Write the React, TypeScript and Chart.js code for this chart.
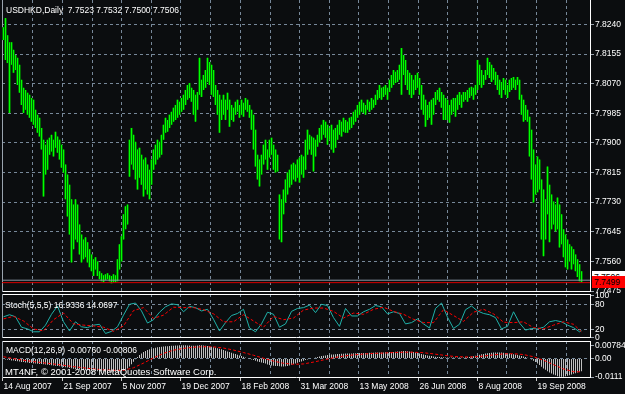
import React, { useEffect, useRef } from 'react';
import { Chart, registerables } from 'chart.js';
Chart.register(...registerables);

const FONT = "'Liberation Sans', Arial, sans-serif";
const BG = '#0b0d0f';
const GRID = '#778899';
const BAR = '#00ff00';
const BAR_SHADE = '#006800';

// ---- time axis (bar index) ----
const xMin = -0.75;
const xMax = 293.25;
// bar positions of the date grid lines, every other one is labelled
const gridBars = [-0.5, 14.5, 29.5, 44.5, 59, 74, 88.5, 103.5, 118.5, 133.5, 148, 163, 177.5, 192.5, 207.5, 222, 237, 251.5, 266.5, 281.5];
const dateLabels = ['14 Aug 2007', '21 Sep 2007', '5 Nov 2007', '19 Dec 2007', '18 Feb 2008', '31 Mar 2008', '13 May 2008', '26 Jun 2008', '8 Aug 2008', '19 Sep 2008'];

// ---- price panel ----
const priceMin = 7.7475;
const priceMax = 7.831;
const priceTicks = [7.7475, 7.756, 7.7645, 7.773, 7.7815, 7.79, 7.7985, 7.807, 7.8155, 7.824];
const bidLevel = 7.7506;
const markLevel = 7.7499;

const barHigh = [
  7.8232, 7.8258, 7.8209, 7.8189, 7.8189, 7.8167, 7.8152, 7.8144, 7.8124, 7.8081,
  7.8058, 7.8052, 7.8044, 7.8038, 7.8029, 7.8024, 7.7995, 7.7981, 7.7972, 7.7943,
  7.7909, 7.7895, 7.7909, 7.7915, 7.7923, 7.7909, 7.7932, 7.7918, 7.7909, 7.7895,
  7.7881, 7.7838, 7.7809, 7.778, 7.7738, 7.7723, 7.7738, 7.7723, 7.7666, 7.7637,
  7.7623, 7.7629, 7.7615, 7.7595, 7.758, 7.7566, 7.7572, 7.756, 7.7532,
  7.7526, 7.752, 7.7523, 7.7526, 7.752, 7.7518, 7.7523, 7.752, 7.7566, 7.7609,
  7.7632, 7.7695, 7.7718, 7.7723, 7.7909, 7.7943, 7.7923, 7.7903, 7.7881, 7.7886,
  7.7866, 7.7852, 7.7858, 7.7838, 7.7823, 7.7852, 7.7881, 7.7895, 7.7909, 7.7903,
  7.7923, 7.7952, 7.7972, 7.7966, 7.7981, 7.7989, 7.8001, 7.8009, 7.8024, 7.8018,
  7.8029, 7.8038, 7.8052, 7.8066, 7.8072, 7.8058, 7.8052, 7.8038, 7.8046, 7.8144,
  7.8081, 7.8095, 7.8109, 7.8144, 7.8132, 7.8124, 7.8109, 7.8066, 7.8052, 7.8038,
  7.8024, 7.8038, 7.8024, 7.8044, 7.8024, 7.8009, 7.8001, 7.8018, 7.8024, 7.8009,
  7.8024, 7.8015, 7.8029, 7.8024, 7.8009, 7.7995, 7.7981, 7.7938, 7.7866, 7.7852,
  7.7866, 7.7895, 7.7909, 7.7881, 7.7909, 7.7915, 7.7895, 7.7881, 7.7866,
  7.7752, 7.7738, 7.7766, 7.7795, 7.7815, 7.7823, 7.7838, 7.7843, 7.7838, 7.7852,
  7.7858, 7.7866, 7.7861, 7.7909, 7.7938, 7.7923, 7.7918, 7.7915, 7.7909, 7.7923,
  7.7943, 7.7952, 7.7966, 7.7961, 7.7952, 7.7943, 7.7952, 7.7938, 7.7943, 7.7952,
  7.7966, 7.7961, 7.7972, 7.7966, 7.7961, 7.7972, 7.7975, 7.7989, 7.7995, 7.8009,
  7.8018, 7.8024, 7.8015, 7.8009, 7.8024, 7.8018, 7.8029, 7.8024, 7.8038, 7.8052,
  7.8066, 7.8058, 7.8061, 7.8066, 7.8058, 7.8081, 7.8095, 7.8109, 7.8104, 7.8109,
  7.8124, 7.8172, 7.8152, 7.8138, 7.8109, 7.8101, 7.8095, 7.8081, 7.8095, 7.8101,
  7.8086, 7.8066, 7.8038, 7.8024, 7.8009, 7.8018, 7.8024, 7.8029, 7.8046,
  7.8052, 7.8058, 7.8046, 7.8038, 7.8029, 7.8024, 7.8009, 7.8024, 7.8029, 7.8029,
  7.8038, 7.8046, 7.8038, 7.8046, 7.8046, 7.8052, 7.8058, 7.8061, 7.8058, 7.8066,
  7.8138, 7.8124, 7.8109, 7.8095, 7.8109, 7.8144, 7.8132, 7.8124, 7.8115, 7.8104,
  7.8095, 7.8081, 7.8075, 7.8086, 7.8081, 7.8066, 7.8081, 7.8086, 7.8089, 7.8081,
  7.8089, 7.8081, 7.8038, 7.8024, 7.8009, 7.7995, 7.7975, 7.7938, 7.7881, 7.7838,
  7.7861, 7.7852, 7.7795, 7.7766, 7.7738, 7.7832, 7.778, 7.7752, 7.7732, 7.7723,
  7.7743, 7.7723, 7.7695, 7.7652, 7.7637, 7.7623, 7.7609, 7.7603, 7.7595,
  7.758, 7.7566, 7.7552, 7.7532,
];

const barLow = [
  7.8195, 7.8138, 7.8129, 7.7986, 7.8124, 7.8101, 7.8109, 7.8066, 7.8044, 7.8009,
  7.7986, 7.7995, 7.7981, 7.7972, 7.7961, 7.7952, 7.7943, 7.7929, 7.7918, 7.7881,
  7.7746, 7.7809, 7.7823, 7.7866, 7.7875, 7.7861, 7.7886, 7.7872, 7.7852, 7.7829,
  7.7815, 7.7738, 7.7689, 7.7637, 7.7557, 7.7595, 7.7623, 7.7615, 7.758, 7.7557,
  7.7566, 7.7572, 7.7557, 7.7543, 7.7532, 7.7518, 7.7537, 7.7518, 7.7509,
  7.7503, 7.75, 7.7506, 7.7509, 7.7503, 7.7497, 7.75, 7.75, 7.7503, 7.7537,
  7.756, 7.7623, 7.7652, 7.7666, 7.7803, 7.7838, 7.7823, 7.7795, 7.7766, 7.78,
  7.778, 7.7746, 7.7766, 7.7752, 7.7738, 7.778, 7.7823, 7.7838, 7.7852, 7.7858,
  7.7866, 7.7909, 7.7929, 7.7932, 7.7943, 7.7952, 7.7961, 7.7966, 7.7972, 7.7981,
  7.7989, 7.7995, 7.8009, 7.8024, 7.8029, 7.8018, 7.7981, 7.7961, 7.7995, 7.8038,
  7.8032, 7.8052, 7.8058, 7.8075, 7.8066, 7.8038, 7.8032, 7.8009, 7.7981, 7.7929,
  7.7966, 7.7981, 7.7966, 7.7995, 7.7946, 7.7966, 7.7961, 7.7981, 7.7989, 7.7972,
  7.7981, 7.7975, 7.7995, 7.7989, 7.7972, 7.7938, 7.7881, 7.7832, 7.7795, 7.7775,
  7.7809, 7.7838, 7.7852, 7.7823, 7.7858, 7.7866, 7.7823, 7.7815, 7.7818,
  7.7623, 7.7615, 7.7695, 7.7729, 7.7752, 7.7772, 7.778, 7.7795, 7.7789, 7.78,
  7.7786, 7.7809, 7.78, 7.7823, 7.7866, 7.7881, 7.7866, 7.7818, 7.7861, 7.7889,
  7.7901, 7.7909, 7.7923, 7.7915, 7.7895, 7.7909, 7.7881, 7.7872, 7.7886, 7.7909,
  7.7923, 7.7918, 7.7932, 7.7929, 7.7929, 7.7938, 7.7943, 7.7952, 7.7961, 7.7972,
  7.7981, 7.7989, 7.7986, 7.7981, 7.7995, 7.7989, 7.7995, 7.8001, 7.8009, 7.8024,
  7.8029, 7.8024, 7.8032, 7.8038, 7.8024, 7.8046, 7.8058, 7.8066, 7.8072, 7.8075,
  7.8081, 7.8038, 7.8095, 7.8066, 7.8052, 7.8038, 7.8029, 7.8038, 7.8052, 7.8058,
  7.8038, 7.7995, 7.7981, 7.7946, 7.7966, 7.7972, 7.7952, 7.7981, 7.8009,
  7.8024, 7.8018, 7.8001, 7.7966, 7.7966, 7.7966, 7.7958, 7.7981, 7.7989, 7.7975,
  7.7995, 7.8009, 7.8001, 7.8018, 7.8024, 7.8018, 7.8029, 7.8035, 7.8024, 7.8038,
  7.8052, 7.8066, 7.8058, 7.8066, 7.8081, 7.8095, 7.8086, 7.8075, 7.8081, 7.8066,
  7.8052, 7.8038, 7.8029, 7.8052, 7.8038, 7.8029, 7.8046, 7.8052, 7.8058, 7.8052,
  7.8066, 7.8024, 7.7981, 7.7961, 7.7966, 7.7961, 7.7861, 7.7795, 7.7729, 7.7752,
  7.7758, 7.7766, 7.7623, 7.7575, 7.7623, 7.7695, 7.7615, 7.7652, 7.7666, 7.7646,
  7.7652, 7.76, 7.7609, 7.7572, 7.7543, 7.7537, 7.756, 7.7537, 7.7552,
  7.7532, 7.7515, 7.7503, 7.75,
];

// ---- stochastic panel ----
const stochMin = 1.5;
const stochMax = 104.7;
const stochTicks = [0, 20, 80, 100];
const stochLevels = [20, 80];
const stochMainStep = 3;
const stochMain = [
  50, 55, 50, 25, 21, 14, 14, 30, 56, 76,
  38, 16, 38, 26, 24, 30, 32, 10, 15, 26,
  54, 80, 83, 64, 35, 43, 61, 74, 81, 79,
  62, 75, 72, 64, 68, 44, 16, 36, 53, 58,
  68, 23, 14, 33, 61, 56, 25, 33, 63, 70,
  72, 78, 60, 80, 77, 48, 27, 70, 52, 52,
  62, 68, 77, 74, 57, 62, 58, 33, 36, 45,
  33, 23, 70, 83, 49, 22, 32, 67, 76, 64,
  58, 55, 48, 21, 27, 62, 35, 18, 22, 21,
  25, 38, 41, 38, 30, 24, 14,
];
const stochSignalStep = 5;
const stochSignal = [
  45, 51, 40, 21, 16, 43, 59, 33, 30, 28,
  25, 15, 28, 65, 72, 46, 54, 73, 72, 72,
  67, 57, 38, 38, 55, 40, 25, 51, 43, 47,
  66, 71, 71, 63, 47, 59, 56, 68, 73, 63,
  56, 44, 36, 36, 67, 53, 39, 61, 68, 57,
  37, 36, 38, 24, 21, 30, 38, 32,
];
const stochLastMain = 16.9336;
const stochLastSignal = 14.0697;

// ---- MACD panel ----
const macdMin = -0.0111;
const macdMax = 0.0104;
const macdTicks = [0.00784, 0, -0.0111];
const macdHist = [
  -0.0004, -0.0006, -0.0008, -0.001, -0.0012, -0.0013, -0.0015, -0.0017, -0.0019, -0.0021,
  -0.0022, -0.0024, -0.0025, -0.0027, -0.0028, -0.003, -0.0031, -0.0032, -0.0033, -0.0034,
  -0.0035, -0.0037, -0.0038, -0.004, -0.0041, -0.0043, -0.0044, -0.0046, -0.0047, -0.0049,
  -0.0051, -0.0053, -0.0055, -0.0057, -0.0059, -0.0061, -0.0063, -0.0065, -0.0067, -0.0068,
  -0.0069, -0.007, -0.0071, -0.0072, -0.0073, -0.0074, -0.0076, -0.0077, -0.0077,
  -0.0078, -0.0078, -0.0079, -0.0079, -0.008, -0.008, -0.008, -0.008, -0.0079, -0.0078,
  -0.0075, -0.0072, -0.0068, -0.006, -0.0048, -0.0035, -0.002, -0.0005, 0.0008, 0.002,
  0.003, 0.0038, 0.0045, 0.005, 0.0054, 0.0057, 0.006, 0.0063, 0.0066, 0.0068,
  0.007, 0.0071, 0.0072, 0.0073, 0.0074, 0.0075, 0.0076, 0.0077, 0.0077, 0.0078,
  0.0078, 0.0078, 0.0078, 0.0077, 0.0077, 0.0076, 0.0075, 0.0076, 0.0077, 0.0078,
  0.0078, 0.0077, 0.0076, 0.0074, 0.0072, 0.007, 0.0067, 0.0064, 0.0061, 0.0058,
  0.0054, 0.005, 0.0046, 0.0042, 0.0038, 0.0034, 0.003, 0.0026, 0.0022, 0.0018,
  0.0014, 0.001, 0.0006, 0.0002, -0.0002, -0.0006, -0.001, -0.0014, -0.0018, -0.0022,
  -0.0025, -0.0028, -0.0031, -0.0037, -0.004, -0.0042, -0.0044, -0.0045, -0.0046,
  -0.0047, -0.0048, -0.0048, -0.0047, -0.0045, -0.0042, -0.0038, -0.0034, -0.003, -0.0026,
  -0.0022, -0.0018, -0.0014, -0.001, -0.0006, -0.0003, 0.0, 0.0003, 0.0006, 0.0009,
  0.0012, 0.0014, 0.0016, 0.0018, 0.002, 0.0022, 0.0023, 0.0024, 0.0025, 0.0026,
  0.0027, 0.0028, 0.0028, 0.0029, 0.0029, 0.003, 0.003, 0.0031, 0.0031, 0.0032,
  0.0032, 0.0032, 0.0033, 0.0033, 0.0033, 0.0034, 0.0034, 0.0034, 0.0035, 0.0035,
  0.0035, 0.0036, 0.0036, 0.0037, 0.0037, 0.0038, 0.0038, 0.0039, 0.004, 0.0041,
  0.0042, 0.0043, 0.0044, 0.0044, 0.0043, 0.0042, 0.004, 0.0038, 0.0035, 0.0032,
  0.0029, 0.0026, 0.0023, 0.002, 0.0018, 0.0016, 0.0014, 0.0012, 0.001,
  0.0009, 0.0008, 0.0007, 0.0007, 0.0006, 0.0006, 0.0005, 0.0005, 0.0005, 0.0005,
  0.0005, 0.0005, 0.0006, 0.0006, 0.0007, 0.0008, 0.0009, 0.0011, 0.0013, 0.0016,
  0.0019, 0.0022, 0.0025, 0.0027, 0.0029, 0.0031, 0.0033, 0.0034, 0.0035, 0.0036,
  0.0036, 0.0036, 0.0035, 0.0034, 0.0033, 0.0031, 0.0029, 0.0027, 0.0025, 0.0023,
  0.0021, 0.0018, 0.0015, 0.0012, 0.0008, 0.0004, 0.0, -0.0006, -0.0014, -0.0022,
  -0.003, -0.004, -0.005, -0.006, -0.0068, -0.0076, -0.0084, -0.009, -0.0096, -0.01,
  -0.0107, -0.0109, -0.011, -0.0109, -0.0107, -0.0104, -0.01, -0.0096, -0.0092,
  -0.0088, -0.0084, -0.008, -0.0076,
];
const macdSignalStep = 5;
const macdSignal = [
  0.001, -0.0001, -0.0011, -0.0019, -0.0026, -0.0033, -0.0041, -0.0049, -0.0056, -0.0063,
  -0.0068, -0.0071, -0.0071, -0.0056, -0.0028, 0.0003, 0.003, 0.0049, 0.006, 0.0067,
  0.007, 0.0069, 0.0062, 0.005, 0.0035, 0.0019, 0.0001, -0.0016, -0.0029, -0.0035,
  -0.0033, -0.0022, -0.0009, 0.0004, 0.0014, 0.0021, 0.0026, 0.003, 0.0032, 0.0035,
  0.0037, 0.0037, 0.0034, 0.0027, 0.0019, 0.0012, 0.0009, 0.0009, 0.0014, 0.0021,
  0.0027, 0.0028, 0.0023, 0.001, -0.0011, -0.0037, -0.0063, -0.0079,
];
const macdLastSignal = -0.00806;

const lastBar = barHigh.length - 1;

const zeroPad = (s: any) => {
  s.paddingTop = 0;
  s.paddingBottom = 0;
  s.paddingLeft = 0;
  s.paddingRight = 0;
};

const xAxis = (extra: any = {}) => ({
  type: 'linear',
  min: xMin,
  max: xMax,
  offset: false,
  afterBuildTicks: (s: any) => {
    s.ticks = gridBars.map((v) => ({ value: v }));
  },
  ticks: { display: false },
  grid: { color: GRID, drawTicks: false, offset: false },
  border: { color: '#ffffff', dash: [3, 3] },
  afterFit: (s: any) => {
    s.height = 0;
    zeroPad(s);
  },
  ...extra,
});

const frameAxis = (position: string, color: string) => ({
  type: 'linear',
  position,
  min: 0,
  max: 1,
  display: true,
  ticks: { display: false },
  grid: { display: false, drawTicks: false },
  border: { color },
  afterFit: (s: any) => {
    if (position === 'top' || position === 'bottom') s.height = 0;
    else s.width = 0;
    zeroPad(s);
  },
});

const tickFont = { family: FONT, size: 8.5 };

const yAxis = (min: number, max: number, ticks: number[], fmt: (v: number) => string, gridOn: (v: number) => boolean) => ({
  type: 'linear',
  position: 'right',
  min,
  max,
  afterBuildTicks: (s: any) => {
    s.ticks = ticks.map((v) => ({ value: v }));
  },
  ticks: { color: '#ffffff', font: tickFont, padding: 1, callback: (v: any) => fmt(Number(v)) },
  grid: {
    color: (ctx: any) => (ctx.tick && gridOn(ctx.tick.value) ? GRID : 'rgba(0,0,0,0)'),
    tickLength: 4,
    tickColor: '#9aa4ae',
  },
  border: { color: '#ffffff', dash: [3, 3] },
  afterFit: (s: any) => {
    s.width = 35;
    zeroPad(s);
  },
});

const baseOptions = (padding: any) => ({
  responsive: false,
  maintainAspectRatio: false,
  animation: false as const,
  events: [] as any[],
  layout: { padding },
  plugins: { legend: { display: false }, tooltip: { enabled: false }, title: { display: false } },
});

const stepPoints = (vals: number[], step: number, lastVal: number) => {
  const pts = vals.map((v, k) => ({ x: k * step, y: v }));
  pts.push({ x: lastBar, y: lastVal });
  return pts;
};

export default function App() {
  const mainRef = useRef<HTMLCanvasElement>(null);
  const stochRef = useRef<HTMLCanvasElement>(null);
  const macdRef = useRef<HTMLCanvasElement>(null);

  useEffect(() => {
    const ranges = barHigh.map((h, i) => ({ x: i, y: [barLow[i], h] }));
    const main = new Chart(mainRef.current as HTMLCanvasElement, {
      type: 'bar',
      data: {
        datasets: [
          {
            type: 'bar',
            data: ranges as any,
            backgroundColor: BAR_SHADE,
            borderWidth: 0,
            barThickness: 3,
            inflateAmount: 0,
            grouped: false,
            order: 4,
          } as any,
          {
            type: 'bar',
            data: ranges as any,
            backgroundColor: BAR,
            borderWidth: 0,
            barThickness: 1,
            inflateAmount: 0,
            grouped: false,
            order: 3,
          } as any,
          {
            type: 'line',
            data: [
              { x: xMin, y: bidLevel },
              { x: xMax, y: bidLevel },
            ],
            borderColor: '#8c99a6',
            borderWidth: 1,
            pointRadius: 0,
            order: 2,
          } as any,
          {
            type: 'line',
            data: [
              { x: xMin, y: markLevel },
              { x: xMax, y: markLevel },
            ],
            borderColor: '#d40000',
            borderWidth: 1,
            pointRadius: 0,
            order: 1,
          } as any,
        ],
      },
      options: {
        ...baseOptions({ left: 2, top: 0, right: 0, bottom: 9 }),
        scales: {
          x: xAxis(),
          y: yAxis(priceMin, priceMax, priceTicks, (v) => v.toFixed(4), () => true),
          yl: frameAxis('left', '#9aa4ae'),
        },
      } as any,
    });

    const stoch = new Chart(stochRef.current as HTMLCanvasElement, {
      type: 'line',
      data: {
        datasets: [
          {
            data: stepPoints(stochMain, stochMainStep, stochLastMain),
            borderColor: '#20b2aa',
            borderWidth: 1,
            pointRadius: 0,
            tension: 0,
            order: 2,
          },
          {
            data: stepPoints(stochSignal, stochSignalStep, stochLastSignal),
            borderColor: '#ff0000',
            borderWidth: 1,
            borderDash: [3, 2],
            pointRadius: 0,
            tension: 0,
            order: 1,
          },
        ],
      },
      options: {
        ...baseOptions({ left: 2, top: 9, right: 0, bottom: 8 }),
        scales: {
          x: xAxis(),
          xt: frameAxis('top', '#ffffff'),
          y: yAxis(stochMin, stochMax, stochTicks, (v) => String(v), (v) => stochLevels.includes(v)),
          yl: frameAxis('left', '#9aa4ae'),
        },
      } as any,
    });

    const macd = new Chart(macdRef.current as HTMLCanvasElement, {
      type: 'bar',
      data: {
        datasets: [
          {
            type: 'bar',
            data: macdHist.map((v, i) => ({ x: i, y: v })) as any,
            backgroundColor: '#c0c0c0',
            borderWidth: 0,
            barThickness: 1,
            inflateAmount: 0,
            grouped: false,
            order: 2,
          } as any,
          {
            type: 'line',
            data: stepPoints(macdSignal, macdSignalStep, macdLastSignal),
            borderColor: '#ff0000',
            borderWidth: 1,
            borderDash: [3, 2],
            pointRadius: 0,
            tension: 0,
            order: 1,
          } as any,
        ],
      },
      options: {
        ...baseOptions({ left: 2, top: 11, right: 0, bottom: 0 }),
        scales: {
          x: xAxis({
            ticks: {
              display: true,
              color: '#ffffff',
              font: tickFont,
              align: 'start',
              padding: 1,
              labelOffset: 1,
              maxRotation: 0,
              autoSkip: false,
              callback: (_v: any, index: number) => (index % 2 === 0 ? dateLabels[index / 2] ?? '' : ''),
            },
            grid: {
              color: GRID,
              drawTicks: true,
              tickLength: 4,
              offset: false,
              tickColor: (ctx: any) => (ctx.index % 2 === 0 ? '#c8c8c8' : 'rgba(0,0,0,0)'),
            },
            afterFit: (s: any) => {
              s.height = 17;
              zeroPad(s);
            },
          }),
          xt: frameAxis('top', '#ffffff'),
          y: yAxis(macdMin, macdMax, macdTicks, (v) => (v === 0 ? '0.00' : String(v)), (v) => v === 0),
          yl: frameAxis('left', '#9aa4ae'),
        },
      } as any,
    });

    return () => {
      main.destroy();
      stoch.destroy();
      macd.destroy();
    };
  }, []);

  const txt: React.CSSProperties = {
    position: 'absolute',
    color: '#ffffff',
    fontFamily: FONT,
    fontSize: 8.5,
    lineHeight: '10px',
    whiteSpace: 'pre',
  };

  return (
    <div style={{ position: 'fixed', left: 0, top: 0, width: 625, height: 394, background: BG, overflow: 'hidden' }}>
      <canvas ref={mainRef} width={625} height={300} style={{ position: 'absolute', left: 0, top: 0 }} />
      <canvas ref={stochRef} width={625} height={60} style={{ position: 'absolute', left: 0, top: 285 }} />
      <canvas ref={macdRef} width={625} height={64} style={{ position: 'absolute', left: 0, top: 330 }} />
      <div style={{ ...txt, left: 6, top: 5 }}>{'USDHKD,Daily  7.7523 7.7532 7.7500 7.7506'}</div>
      <div style={{ ...txt, left: 5, top: 300 }}>{'Stoch(5,5,5) 16.9336 14.0697'}</div>
      <div style={{ ...txt, left: 6, top: 345 }}>{'MACD(12,26,9) -0.00760 -0.00806'}</div>
      <div style={{ ...txt, left: 5, top: 366, fontSize: 9.5, lineHeight: '11px' }}>{'MT4NF, © 2001-2008 MetaQuotes Software Corp.'}</div>
      <div style={{ ...txt, left: 592, top: 271, width: 33, height: 12, background: '#ffffff', color: '#000000', paddingLeft: 2, lineHeight: '12px', boxSizing: 'border-box' }}>{'7.7506'}</div>
      <div style={{ ...txt, left: 592, top: 276, width: 33, height: 12, background: '#ff0000', color: '#000000', paddingLeft: 2, lineHeight: '12px', boxSizing: 'border-box' }}>{'7.7499'}</div>
    </div>
  );
}
